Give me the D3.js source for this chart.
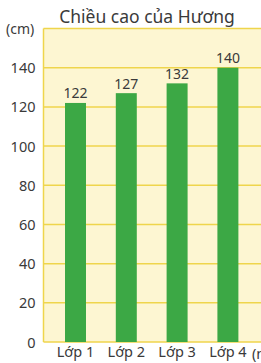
<!DOCTYPE html>
<html>
<head>
<meta charset="utf-8">
<script src="https://cdn.jsdelivr.net/npm/d3@7"></script>
<style>
  html, body { margin: 0; padding: 0; background: #ffffff; }
  svg { display: block; }
  text { font-family: "Noto Sans", "Open Sans", sans-serif; fill: #3a3a3a; }
</style>
</head>
<body>
<svg id="chart" width="261" height="363"></svg>
<script>
const categories = ["Lớp 1", "Lớp 2", "Lớp 3", "Lớp 4"];
const heights = [122, 127, 132, 140];
const yTicks = [0, 20, 40, 60, 80, 100, 120, 140];
const title = "Chiều cao của Hương";
const yUnit = "(cm)";
const xUnit = "(năm)";

const svg = d3.select("#chart");
const plot = { left: 43.5, right: 262, top: 28.5, bottom: 342 };

const y = d3.scaleLinear().domain([0, 160]).range([plot.bottom, plot.top]);
const x = d3.scaleBand().domain(categories)
  .range([50.1, 253.3]).paddingInner(0.587).paddingOuter(0.2935);

// plot background
svg.append("rect")
  .attr("x", plot.left).attr("y", plot.top)
  .attr("width", plot.right - plot.left).attr("height", plot.bottom - plot.top)
  .attr("fill", "#fdf6d2");

// gridlines
svg.append("g").selectAll("line").data(yTicks.concat([160])).join("line")
  .attr("x1", plot.left).attr("x2", plot.right)
  .attr("y1", d => y(d)).attr("y2", d => y(d))
  .attr("stroke", "#efd54c").attr("stroke-width", 1.5);

// left axis line
svg.append("line")
  .attr("x1", plot.left).attr("x2", plot.left)
  .attr("y1", plot.top).attr("y2", plot.bottom)
  .attr("stroke", "#efd54c").attr("stroke-width", 1.5);

// y axis labels via d3 axis
const yAxis = d3.axisLeft(y).tickValues(yTicks).tickSize(0).tickPadding(8);
const gy = svg.append("g").attr("transform", `translate(${plot.left},0)`).call(yAxis);
gy.select(".domain").remove();
gy.selectAll("text")
  .style("font-family", '"Noto Sans", "Open Sans", sans-serif')
  .attr("font-size", 14.5).attr("fill", "#3a3a3a").attr("dy", "0.35em");

// bars
svg.append("g").selectAll("rect").data(heights).join("rect")
  .attr("x", (d, i) => x(categories[i]))
  .attr("width", x.bandwidth())
  .attr("y", d => y(d))
  .attr("height", d => y(0) - y(d))
  .attr("fill", "#3ca845");

// value labels
svg.append("g").selectAll("text").data(heights).join("text")
  .attr("x", (d, i) => x(categories[i]) + x.bandwidth() / 2)
  .attr("y", d => y(d) - 4.5)
  .attr("text-anchor", "middle")
  .attr("font-size", 14)
  .text(d => d);

// x axis labels via d3 axis
const xAxis = d3.axisBottom(x).tickSize(0).tickPadding(5);
const gx = svg.append("g").attr("transform", `translate(0,${plot.bottom})`).call(xAxis);
gx.select(".domain").remove();
gx.selectAll("text")
  .style("font-family", '"Noto Sans", "Open Sans", sans-serif')
  .attr("font-size", 14.5).attr("fill", "#3a3a3a");

svg.append("text")
  .attr("x", 252).attr("y", 359)
  .attr("font-size", 14.5)
  .text(xUnit);

// title
svg.append("text")
  .attr("x", 147).attr("y", 23)
  .attr("text-anchor", "middle")
  .attr("font-size", 17.5)
  .text(title);

// y unit
svg.append("text")
  .attr("x", 6).attr("y", 34)
  .attr("font-size", 14)
  .text(yUnit);
</script>
</body>
</html>
